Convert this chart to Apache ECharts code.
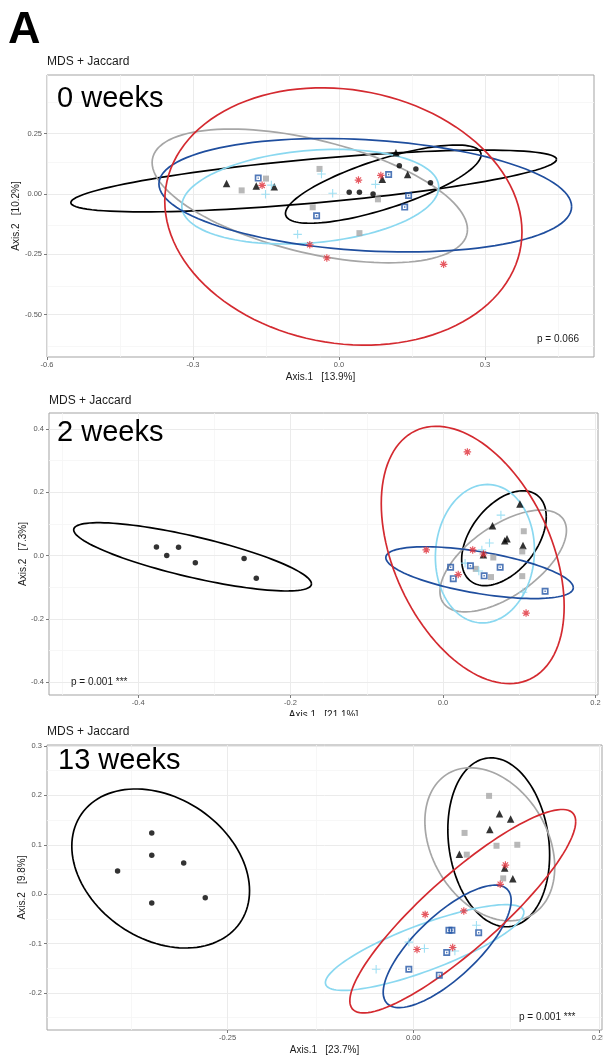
<!DOCTYPE html>
<html>
<head>
<meta charset="utf-8">
<script src="https://cdn.jsdelivr.net/npm/echarts@6/dist/echarts.min.js"></script>
<style>
  html, body { margin: 0; padding: 0; background: #fff; }
  #chart { width: 603px; height: 1059px; }
</style>
</head>
<body>
<div id="chart"></div>
<script>
const FONT = "'Liberation Sans', Arial, sans-serif";

// groups, in the same order everywhere below
const groups = ["circle", "triangle", "grey", "lightblue", "blue", "red"];

// ---- 0 weeks ----
const w0Circle = [[0.021, 0.007], [0.042, 0.007], [0.070, 0.000], [0.124, 0.117], [0.158, 0.104], [0.188, 0.047]];
const w0Triangle = [[-0.231, 0.044], [-0.170, 0.033], [-0.133, 0.030], [0.117, 0.171], [0.089, 0.061], [0.141, 0.081]];
const w0Grey = [[-0.200, 0.015], [-0.150, 0.064], [-0.040, 0.104], [-0.054, -0.055], [0.080, -0.022], [0.042, -0.162]];
const w0LightBlue = [[-0.139, 0.037], [-0.151, -0.001], [-0.036, 0.083], [-0.013, 0.003], [0.075, 0.040], [-0.085, -0.167]];
const w0Blue = [[-0.166, 0.066], [0.102, 0.081], [0.143, -0.006], [0.135, -0.054], [-0.046, -0.090]];
const w0Red = [[-0.158, 0.036], [0.040, 0.058], [0.086, 0.077], [-0.060, -0.210], [-0.025, -0.265], [0.215, -0.291]];
// ellipses: centre x, centre y, half width, half height, correlation
const w0Ellipse = [
  [0.091, 0.041, 0.201, 0.162, 0.75],
  [-0.052, 0.054, 0.499, 0.128, 0.7],
  [-0.060, -0.008, 0.324, 0.277, -0.5],
  [-0.059, -0.011, 0.264, 0.196, 0.2],
  [0.054, -0.005, 0.424, 0.235, -0.2],
  [0.009, -0.093, 0.367, 0.533, -0.12],
];
const w0XTicks = [-0.6, -0.3, 0, 0.3];
const w0YTicks = [0.25, 0, -0.25, -0.5];
const w0XMinor = [-0.45, -0.15, 0.15, 0.45];
const w0YMinor = [0.375, 0.125, -0.125, -0.375, -0.625];

// ---- 2 weeks ----
const w2Circle = [[-0.376, 0.027], [-0.3625, 0.0], [-0.347, 0.026], [-0.325, -0.023], [-0.261, -0.0095], [-0.245, -0.072]];
const w2Triangle = [[0.101, 0.163], [0.065, 0.094], [0.081, 0.047], [0.084, 0.053], [0.105, 0.032], [0.053, 0.003]];
const w2Grey = [[0.106, 0.077], [0.104, 0.013], [0.066, -0.006], [0.043, -0.042], [0.063, -0.068], [0.104, -0.065]];
const w2LightBlue = [[0.076, 0.128], [0.061, 0.040], [0.051, 0.018], [0.029, -0.024], [0.047, -0.049], [0.105, -0.116]];
const w2Blue = [[0.010, -0.037], [0.0135, -0.073], [0.036, -0.032], [0.054, -0.064], [0.075, -0.037], [0.134, -0.113]];
const w2Red = [[0.032, 0.328], [-0.022, 0.018], [0.039, 0.018], [0.053, 0.005], [0.020, -0.060], [0.109, -0.182]];
const w2Ellipse = [
  [-0.3286, -0.004, 0.156, 0.108, -0.79],
  [0.080, 0.055, 0.0555, 0.150, 0.45],
  [0.079, -0.017, 0.083, 0.161, 0.6],
  [0.055, 0.006, 0.065, 0.219, 0.05],
  [0.048, -0.054, 0.123, 0.082, -0.58],
  [0.039, 0.002, 0.120, 0.407, -0.4],
];
const w2XTicks = [-0.4, -0.2, 0, 0.2];
const w2YTicks = [0.4, 0.2, 0, -0.2, -0.4];
const w2XMinor = [-0.5, -0.3, -0.1, 0.1];
const w2YMinor = [0.3, 0.1, -0.1, -0.3];

// ---- 13 weeks ----
const w13Circle = [[-0.352, 0.124], [-0.352, 0.079], [-0.398, 0.047], [-0.309, 0.063], [-0.352, -0.018], [-0.280, -0.007]];
const w13Triangle = [[0.116, 0.163], [0.131, 0.152], [0.103, 0.131], [0.062, 0.081], [0.123, 0.053], [0.134, 0.031]];
const w13Grey = [[0.102, 0.199], [0.069, 0.124], [0.112, 0.098], [0.140, 0.100], [0.072, 0.080], [0.121, 0.032]];
const w13LightBlue = [[0.085, -0.063], [0.015, -0.110], [0.056, -0.115], [-0.050, -0.152], [-0.006, -0.097]];
const w13Blue = [[0.048, -0.073], [0.052, -0.073], [0.088, -0.078], [0.045, -0.118], [-0.006, -0.152], [0.035, -0.164]];
const w13Red = [[0.124, 0.059], [0.117, 0.020], [0.016, -0.041], [0.068, -0.034], [0.005, -0.112], [0.053, -0.108]];
const w13Ellipse = [
  [-0.340, 0.052, 0.1196, 0.161, -0.28],
  [0.115, 0.105, 0.0685, 0.171, -0.15],
  [0.103, 0.101, 0.0874, 0.155, -0.3],
  [0.0153, -0.108, 0.1336, 0.0868, 0.82],
  [0.0456, -0.1057, 0.0861, 0.124, 0.75],
  [0.0666, -0.0345, 0.152, 0.206, 0.88],
];
const w13XTicks = [-0.25, 0, 0.25];
const w13YTicks = [0.3, 0.2, 0.1, 0, -0.1, -0.2];
const w13XMinor = [-0.375, -0.125, 0.125];
const w13YMinor = [0.25, 0.15, 0.05, -0.05, -0.15, -0.25];

const panels = [
  {
    label: "0 weeks", p: "p = 0.066",
    points: [w0Circle, w0Triangle, w0Grey, w0LightBlue, w0Blue, w0Red], ellipses: w0Ellipse,
    xRange: [-0.6, 0.524], yRange: [-0.675, 0.493],
    xTicks: w0XTicks, yTicks: w0YTicks, xMinor: w0XMinor, yMinor: w0YMinor, xDigits: 1, yDigits: 2,
    xName: "Axis.1   [13.9%]", yName: "Axis.2   [10.2%]",
  },
  {
    label: "2 weeks", p: "p = 0.001 ***",
    points: [w2Circle, w2Triangle, w2Grey, w2LightBlue, w2Blue, w2Red], ellipses: w2Ellipse,
    xRange: [-0.517, 0.2034], yRange: [-0.441, 0.451],
    xTicks: w2XTicks, yTicks: w2YTicks, xMinor: w2XMinor, yMinor: w2YMinor, xDigits: 1, yDigits: 1,
    xName: "Axis.1   [21.1%]", yName: "Axis.2   [7.3%]",
  },
  {
    label: "13 weeks", p: "p = 0.001 ***",
    points: [w13Circle, w13Triangle, w13Grey, w13LightBlue, w13Blue, w13Red], ellipses: w13Ellipse,
    xRange: [-0.493, 0.254], yRange: [-0.275, 0.302],
    xTicks: w13XTicks, yTicks: w13YTicks, xMinor: w13XMinor, yMinor: w13YMinor, xDigits: 2, yDigits: 1,
    xName: "Axis.1   [23.7%]", yName: "Axis.2   [9.8%]",
  },
];

// layout per panel (pixels)
const layout = [
  { grid: { left: 47, top: 75, width: 547, height: 282 }, yGap: 26, title: [47, 63], week: [57, 99], pText: [579, 339, "right"] },
  { grid: { left: 49, top: 413, width: 549, height: 282 }, yGap: 21, title: [49, 402], week: [57, 433], pText: [71, 682, "left"] },
  { grid: { left: 47, top: 745, width: 555, height: 285 }, yGap: 20, title: [47, 733], week: [58, 761], pText: [519, 1017, "left"] },
];

const lineColors = ["#000000", "#000000", "#a6a6a6", "#8ad8f0", "#1f4e9e", "#d42a30"];
const PLUS = "path://M5,0L5,10M0,5L10,5";
const STAR = "path://M5,0L5,10M0,5L10,5M1.5,1.5L8.5,8.5M8.5,1.5L1.5,8.5";
const BOXED = "path://M0,0H10V10H0ZM2.4,2.4V7.6H7.6V2.4ZM4,4H6V6H4Z";
const markers = [
  { symbol: "circle", size: 5.5, itemStyle: { color: "#000" } },
  { symbol: "triangle", size: 7.5, itemStyle: { color: "#000" } },
  { symbol: "rect", size: 6, itemStyle: { color: "#a6a6a6" } },
  { symbol: PLUS, size: 8.5, itemStyle: { color: "rgba(0,0,0,0)", borderColor: "#8ad8f0", borderWidth: 1.1 } },
  { symbol: BOXED, size: 7, itemStyle: { color: "#2456a6" } },
  { symbol: STAR, size: 7.5, itemStyle: { color: "rgba(0,0,0,0)", borderColor: "#e0303a", borderWidth: 1.2 } },
];

function ellipseItem(color) {
  return function (params, api) {
    const cx = api.value(0), cy = api.value(1), hw = api.value(2), hh = api.value(3), r = api.value(4);
    const s = Math.sqrt(1 - r * r);
    const pts = [];
    for (let i = 0; i <= 120; i++) {
      const t = (i / 120) * 2 * Math.PI;
      pts.push(api.coord([cx + hw * Math.cos(t), cy + hh * (r * Math.cos(t) + s * Math.sin(t))]));
    }
    return {
      type: "polyline",
      shape: { points: pts },
      style: { stroke: color, lineWidth: 1.7, fill: null },
    };
  };
}

const grids = [], xAxes = [], yAxes = [], series = [], graphics = [];
const majorStyle = { color: "#ebebeb", width: 1, type: "solid" };
const minorStyle = { color: "#f5f5f5", width: 0.8, type: "solid" };

panels.forEach((pn, i) => {
  const lay = layout[i];
  grids.push(Object.assign({
    show: true, borderColor: "#a3a3a3", borderWidth: 1, backgroundColor: "#fff",
    containLabel: false, outerBoundsMode: "none",
  }, lay.grid));

  const axisCommon = {
    type: "value", gridIndex: i, scale: true,
    axisLine: { show: false, onZero: false },
    splitLine: { show: false },
    nameLocation: "middle",
    nameMoveOverlap: false,
    nameTextStyle: { color: "#1a1a1a", fontSize: 10, fontFamily: FONT },
  };
  xAxes.push(Object.assign({}, axisCommon, {
    min: pn.xRange[0], max: pn.xRange[1], name: pn.xName, nameGap: 15,
    axisTick: { show: true, customValues: pn.xTicks, length: 3, lineStyle: { color: "#7a7a7a" } },
    axisLabel: { customValues: pn.xTicks, formatter: v => v.toFixed(pn.xDigits), color: "#555", fontSize: 7.5, fontFamily: FONT, margin: 4 },
  }));
  yAxes.push(Object.assign({}, axisCommon, {
    min: pn.yRange[0], max: pn.yRange[1], name: pn.yName, nameGap: lay.yGap,
    axisTick: { show: true, customValues: pn.yTicks, length: 3, lineStyle: { color: "#7a7a7a" } },
    axisLabel: { customValues: pn.yTicks, formatter: v => v.toFixed(pn.yDigits), color: "#555", fontSize: 7.5, fontFamily: FONT, margin: 5 },
  }));

  // background grid lines
  series.push({
    type: "scatter", xAxisIndex: i, yAxisIndex: i, data: [], silent: true, z: 1,
    markLine: {
      silent: true, symbol: ["none", "none"], label: { show: false }, animation: false, z: 1,
      data: [
        ...pn.xMinor.map(v => ({ xAxis: v, lineStyle: minorStyle })),
        ...pn.yMinor.map(v => ({ yAxis: v, lineStyle: minorStyle })),
        ...pn.xTicks.map(v => ({ xAxis: v, lineStyle: majorStyle })),
        ...pn.yTicks.map(v => ({ yAxis: v, lineStyle: majorStyle })),
      ],
    },
  });

  pn.ellipses.forEach((e, g) => {
    series.push({
      type: "custom", name: groups[g], xAxisIndex: i, yAxisIndex: i, z: 2, clip: true, silent: true,
      renderItem: ellipseItem(lineColors[g]),
      encode: { x: 0, y: 1 },
      data: [e],
    });
  });

  pn.points.forEach((pts, g) => {
    const m = markers[g];
    series.push({
      type: "scatter", name: groups[g], xAxisIndex: i, yAxisIndex: i, z: 3, silent: true,
      symbol: m.symbol, symbolSize: m.size, itemStyle: m.itemStyle,
      data: pts,
    });
  });

  graphics.push({
    type: "text", left: lay.title[0], top: lay.title[1] - 7, z: 60,
    style: { text: "MDS + Jaccard", font: "12px " + FONT, fill: "#1a1a1a" },
  });
  graphics.push({
    type: "text", x: lay.week[0], y: lay.week[1], z: 60,
    style: { text: pn.label, font: "29px " + FONT, fill: "#000", verticalAlign: "middle", align: "left" },
  });
  graphics.push({
    type: "text", x: lay.pText[0], y: lay.pText[1], z: 60,
    style: { text: pn.p, font: "10px " + FONT, fill: "#1a1a1a", verticalAlign: "middle", align: lay.pText[2] },
  });
});

// the 2-week x-axis title is cut by the next panel in the figure
graphics.unshift({ type: "rect", shape: { x: 0, y: 716, width: 603, height: 12 }, style: { fill: "#fff" }, z: 50 });
graphics.push({
  type: "text", x: 8, y: 31, z: 60,
  style: { text: "A", font: "bold 45px " + FONT, fill: "#000", verticalAlign: "middle" },
});

const chart = echarts.init(document.getElementById("chart"), null, { renderer: "canvas" });
chart.setOption({
  animation: false,
  backgroundColor: "#fff",
  grid: grids,
  xAxis: xAxes,
  yAxis: yAxes,
  series: series,
  graphic: { elements: graphics },
});
</script>
</body>
</html>
